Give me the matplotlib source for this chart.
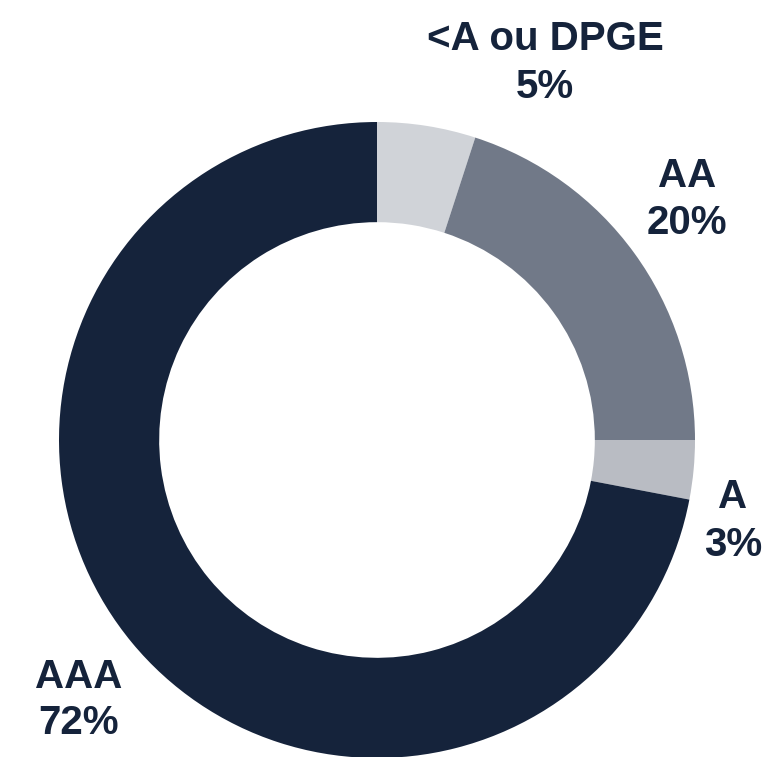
import matplotlib
matplotlib.use('Agg')

import matplotlib.pyplot as plt


# Data
categories = ["<A ou DPGE", "AA", "A", "AAA"]
shares = [5, 20, 3, 72]
colors = ["#D0D3D8", "#717988", "#B9BCC3", "#15233B"]

TEXT_COLOR = "#15233B"

# label anchor (pixel coords of the reference image, top-left origin)
label_px = [(545, 63), (687, 200), (733, 521), (79, 700)]

W, H = 770, 757
CX, CY, R = 377, 440, 318


def px_to_data(px, py):
    return (px - CX) / R, (CY - py) / R


fig = plt.figure(figsize=(W / 100, H / 100), dpi=100)
ax = fig.add_axes([0, 0, 1, 1])

ax.pie(shares, colors=colors, startangle=90, counterclock=False, radius=1,
       wedgeprops={'width': 0.315, 'linewidth': 0})

# pie() resets the limits, so set them afterwards
ax.set_aspect('auto')
ax.set_xlim(-CX / R, (W - CX) / R)
ax.set_ylim(-(H - CY) / R, CY / R)
ax.axis('off')

for cat, val, (px, py) in zip(categories, shares, label_px):
    x, y = px_to_data(px, py)
    ax.text(x, y, f"{cat}\n{val}%", ha='center', va='center',
            fontsize=29, fontweight='bold', family='Liberation Sans',
            color=TEXT_COLOR, linespacing=1.3)

fig.savefig("out.png", dpi=100)
